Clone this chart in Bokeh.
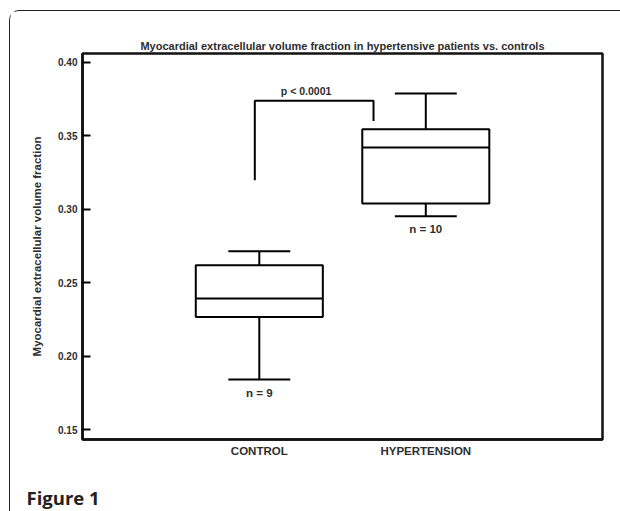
from bokeh.plotting import figure
from bokeh.models import Range1d, FixedTicker, ColumnDataSource
from bokeh.layouts import column
from bokeh.core.properties import value
from bokeh.embed import file_html
from bokeh.resources import INLINE

# ---- data ----
categories = ["CONTROL", "HYPERTENSION"]
upper_whisker = [0.2714, 0.3787]
q3 = [0.2619, 0.3544]
median = [0.2393, 0.3420]
q1 = [0.2267, 0.3039]
lower_whisker = [0.1842, 0.2952]
n_labels = ["n = 9", "n = 10"]
n_label_y = [0.1748, 0.2862]
y_ticks = [0.15, 0.20, 0.25, 0.30, 0.35, 0.40]
bracket_x = [0.973, 0.973, 1.686, 1.686]
bracket_y = [0.3197, 0.3737, 0.3737, 0.3599]
p_text = ["p < 0.0001"]
p_text_x = [1.281]
p_text_y = [0.3805]

title = "Myocardial extracellular volume fraction in hypertensive patients vs. controls"
y_label = "Myocardial extracellular volume fraction"
caption = "Figure 1"

FONT = "Liberation Sans"
TXT = "#2e2e2e"

pos = [i + 1 for i in range(len(categories))]
box_w = 0.763
cap_w = 0.372

OX, OY = 10, 11                      # canvas offset caused by card margin + border
FL, FR, FT, FB = 82 - OX, 602 - OX, 53 - OY, 439 - OY  # frame edges on canvas
W, H = 610, 470
CAP_H = 30

p = figure(width=W, height=H, output_backend="svg", toolbar_location=None,
           x_range=Range1d(-0.0619, 3.0613), y_range=Range1d(0.1433, 0.4059),
           min_border_left=FL, min_border_right=W - FR, min_border_top=FT, min_border_bottom=H - FB)
p.grid.visible = False
p.background_fill_color = "white"
p.border_fill_color = "white"
p.outline_line_color = "#111111"
p.outline_line_width = 2.5

p.title.text = title
p.title.align = "center"
p.title.text_font = FONT
p.title.text_font_size = "11px"
p.title.text_font_style = "bold"
p.title.text_color = TXT
p.title.standoff = 3

# boxes
src = ColumnDataSource(dict(x=pos, q1=q1, q3=q3, med=median, lo=lower_whisker, hi=upper_whisker,
                            left=[x - box_w / 2 for x in pos], right=[x + box_w / 2 for x in pos],
                            cl=[x - cap_w / 2 for x in pos], cr=[x + cap_w / 2 for x in pos]))
p.segment(x0="x", y0="q3", x1="x", y1="hi", source=src, line_color="black", line_width=2)
p.segment(x0="x", y0="q1", x1="x", y1="lo", source=src, line_color="black", line_width=2)
p.segment(x0="cl", y0="hi", x1="cr", y1="hi", source=src, line_color="black", line_width=2)
p.segment(x0="cl", y0="lo", x1="cr", y1="lo", source=src, line_color="black", line_width=2)
p.quad(left="left", right="right", bottom="q1", top="q3", source=src,
       fill_color="white", line_color="black", line_width=2)
p.segment(x0="left", y0="med", x1="right", y1="med", source=src, line_color="black", line_width=2)

p.text(x=pos, y=n_label_y, text=n_labels, text_font=value(FONT), text_font_style="bold",
       text_font_size="11.5px", text_color=TXT, text_align="center", text_baseline="middle")

# significance bracket
p.line(bracket_x, bracket_y, line_color="black", line_width=2)
p.text(x=p_text_x, y=p_text_y, text=p_text, text_font=value(FONT), text_font_style="bold",
       text_font_size="10.5px", text_color=TXT, text_align="center", text_baseline="middle")

# axes
xa = p.xaxis[0]
xa.ticker = FixedTicker(ticks=pos)
xa.major_label_overrides = {x: c for x, c in zip(pos, categories)}
xa.major_tick_in = 0
xa.major_tick_out = 0
xa.minor_tick_line_color = None
xa.axis_line_color = "#111111"
xa.axis_line_width = 2.5
xa.major_label_standoff = 5
xa.major_label_text_font = FONT
xa.major_label_text_font_style = "bold"
xa.major_label_text_font_size = "11.5px"
xa.major_label_text_color = TXT

ya = p.yaxis[0]
ya.ticker = FixedTicker(ticks=y_ticks)
ya.major_label_overrides = {t: f"{t:.2f}" for t in y_ticks}
ya.major_tick_in = 8
ya.major_tick_out = 0
ya.major_tick_line_width = 2
ya.major_tick_line_color = "black"
ya.minor_tick_line_color = None
ya.axis_line_color = "#111111"
ya.axis_line_width = 2.5
ya.major_label_standoff = 5
ya.major_label_text_font = FONT
ya.major_label_text_font_style = "bold"
ya.major_label_text_font_size = "10px"
ya.major_label_text_color = TXT
ya.axis_label = y_label
ya.axis_label_text_font = FONT
ya.axis_label_text_font_style = "bold"
ya.axis_label_text_font_size = "11.5px"
ya.axis_label_text_color = TXT
ya.axis_label_standoff = 12

# caption strip below the chart (its frame aligns with the chart frame)
c = figure(width=W, height=CAP_H, output_backend="svg", toolbar_location=None,
           x_range=Range1d(0, 1), y_range=Range1d(0, 1),
           min_border_left=FL, min_border_right=W - FR, min_border_top=CAP_H - 2, min_border_bottom=0,
           x_axis_type=None, y_axis_type=None)
c.grid.visible = False
c.outline_line_color = None
c.background_fill_color = "white"
c.border_fill_color = "white"
c.title.text = caption
c.title.align = "left"
c.title.offset = 26 - 82
c.title.standoff = 0
c.title.text_font = "Open Sans"
c.title.text_font_style = "bold"
c.title.text_font_size = "18.5px"
c.title.text_color = "#222222"

layout = column(p, c, spacing=0)
layout.styles = {"margin-left": "9px", "margin-top": "10px",
                 "border-left": "1px solid #222222", "border-top": "1px solid #222222",
                 "border-top-left-radius": "10px"}

open("out.html", "w").write(file_html(layout, INLINE))
